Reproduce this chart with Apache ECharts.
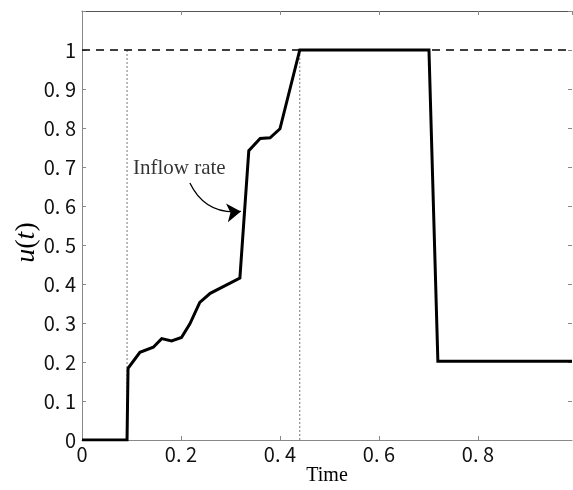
<!DOCTYPE html>
<html><head><meta charset="utf-8">
<script src="https://cdn.jsdelivr.net/npm/echarts@6/dist/echarts.min.js"></script>
<style>html,body{margin:0;padding:0;background:#fff}#c{width:573px;height:490px}</style>
</head><body><div id="c"></div>
<script>
const timeValues = [0, 0.091, 0.093, 0.117, 0.144, 0.161, 0.181, 0.201, 0.218, 0.238, 0.259, 0.319, 0.337, 0.360, 0.380, 0.400, 0.440, 0.701, 0.719, 0.99];
const inflowValues = [0, 0, 0.184, 0.225, 0.238, 0.260, 0.254, 0.263, 0.298, 0.353, 0.376, 0.415, 0.742, 0.773, 0.775, 0.798, 1.0, 1.0, 0.202, 0.202];
const markerTimes = [0.091, 0.44];
const refLevel = 1;
const xTicks = [0, 0.2, 0.4, 0.6, 0.8];
const yTicks = [0, 0.1, 0.2, 0.3, 0.4, 0.5, 0.6, 0.7, 0.8, 0.9, 1];
const annotationText = 'Inflow rate';
const annotationPos = [0.103, 0.696];
const arrowFrom = [0.218, 0.659];
const arrowTo = [0.321, 0.586];

function fmt(v) {
  const r = Math.round(v * 10) / 10;
  if (r === 0) return '0';
  if (r === 1) return '1';
  return r.toFixed(1).replace('.', '. ');
}
const labelFont = '"Noto Sans CJK JP", "DejaVu Sans", sans-serif';
const serif = '"Liberation Serif", "DejaVu Serif", serif';

const chart = echarts.init(document.getElementById('c'));
chart.setOption({
  animation: false,
  backgroundColor: '#fff',
  grid: { left: 82, right: 1, top: 11, bottom: 50, containLabel: false, outerBoundsMode: 'none' },
  xAxis: [{
    type: 'value', min: 0, max: 0.99, interval: 0.2,
    name: 'Time', nameLocation: 'middle', nameGap: 26, nameMoveOverlap: false,
    nameTextStyle: { fontFamily: serif, fontSize: 20, color: '#000' },
    axisLine: { show: true, onZero: false, lineStyle: { color: '#888', width: 1 } },
    axisTick: { show: true, inside: true, length: 4, lineStyle: { color: '#888' } },
    axisLabel: { fontFamily: labelFont, fontSize: 20, color: '#111', margin: 4, showMaxLabel: false,
      formatter: v => xTicks.some(t => Math.abs(t - v) < 1e-6) ? fmt(v) : '' },
    splitLine: { show: false }
  }, {
    type: 'value', min: 0, max: 0.99, interval: 0.2, position: 'top',
    axisLine: { show: true, onZero: false, lineStyle: { color: '#555', width: 1 } },
    axisTick: { show: true, inside: true, length: 4, lineStyle: { color: '#888' } },
    axisLabel: { show: false }, splitLine: { show: false }
  }],
  yAxis: [{
    type: 'value', min: 0, max: 1.1, interval: 0.1,
    name: '{i|u}{n|(}{i|t}{n|)}', nameLocation: 'middle', nameGap: 41, nameRotate: 90, nameMoveOverlap: false,
    nameTextStyle: { padding: [0, 34, 0, 0], rich: {
      i: { fontFamily: serif, fontStyle: 'italic', fontSize: 28, color: '#000' },
      n: { fontFamily: serif, fontSize: 28, color: '#000' } } },
    axisLine: { show: true, onZero: false, lineStyle: { color: '#888', width: 1 } },
    axisTick: { show: true, inside: true, length: 4, lineStyle: { color: '#888' } },
    axisLabel: { fontFamily: labelFont, fontSize: 20, color: '#111', margin: 6,
      formatter: v => yTicks.some(t => Math.abs(t - v) < 1e-6) ? fmt(v) : '' },
    splitLine: { show: false }
  }, {
    type: 'value', min: 0, max: 1.1, interval: 0.1, position: 'right',
    axisLine: { show: false, onZero: false },
    axisTick: { show: true, inside: true, length: 4, lineStyle: { color: '#888' } },
    axisLabel: { show: false }, splitLine: { show: false }
  }],
  series: [
    {
      type: 'line', name: 'ref', symbol: 'none', silent: true,
      data: [[0, refLevel], [0.99, refLevel]],
      lineStyle: { color: '#000', width: 1.3, type: [8, 6] }, z: 2
    },
    ...markerTimes.map(t => ({
      type: 'line', symbol: 'none', silent: true,
      data: [[t, 0], [t, refLevel]],
      lineStyle: { color: '#777', width: 1, type: [2, 2] }, z: 1
    })),
    {
      type: 'line', name: 'u', symbol: 'none',
      data: timeValues.map((t, i) => [t, inflowValues[i]]),
      lineStyle: { color: '#000', width: 3, join: 'miter' }, z: 5
    },
    {
      type: 'lines', coordinateSystem: 'cartesian2d', silent: true,
      symbol: ['none', 'arrow'], symbolSize: [0, 14],
      data: [{ coords: [arrowFrom, arrowTo] }],
      lineStyle: { color: '#000', width: 1.3, curveness: -0.35, opacity: 1 }, z: 6
    },
    {
      type: 'scatter', symbolSize: 0, silent: true,
      data: [{ value: annotationPos }],
      label: { show: true, position: 'right', distance: 0, formatter: annotationText,
        fontFamily: serif, fontSize: 21, color: '#000' }
    }
  ]
});
</script></body></html>
